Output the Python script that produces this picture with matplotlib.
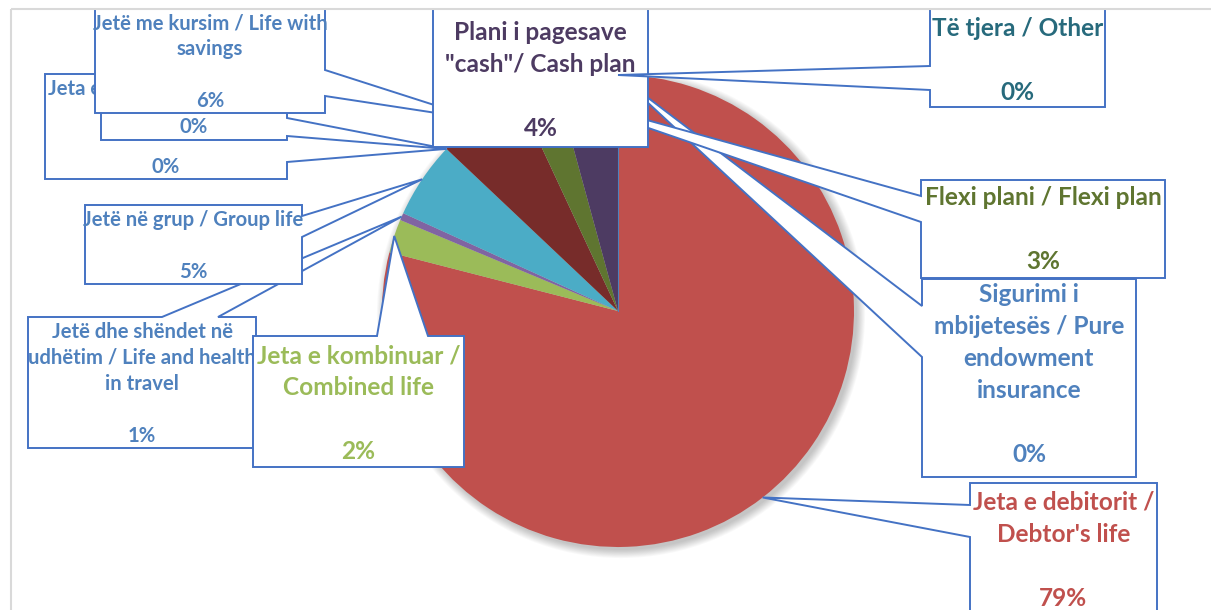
import math
import matplotlib
matplotlib.use("Agg")
import matplotlib.pyplot as plt
from matplotlib.patches import Polygon, Rectangle, Circle

# ---------------- data ----------------
categories = [
    "Sigurimi i\nmbijetesës / Pure\nendowment\ninsurance",
    "Jeta e debitorit /\nDebtor's life",
    "Jeta e kombinuar /\nCombined life",
    "Jetë dhe shëndet në\nudhëtim / Life and health\nin travel",
    "Jetë në grup / Group life",
    "Jeta e përkohshme / Term\nlife",
    "Jetë me fond investimi\n/ Unit linked",
    "Jetë me kursim / Life with\nsavings",
    "Flexi plani / Flexi plan",
    "Plani i pagesave\n\"cash\"/ Cash plan",
    "Të tjera / Other",
]
values = [0.0, 79.0, 2.3, 0.5, 5.25, 0.0, 0.0, 6.0, 2.7, 4.25, 0.0]
slice_colors = ["#4F81BD", "#C0504D", "#9BBB59", "#8064A2", "#4BACC6", "#F79646",
                "#2C4D75", "#772C2A", "#5F7530", "#4D3B62", "#276A7C"]
label_colors = ["#4F81BD", "#C0504D", "#9BBB59", "#4F81BD", "#4F81BD", "#4F81BD",
                "#4F81BD", "#4F81BD", "#5F7530", "#4D3B62", "#276A7C"]

# ---------------- layout (pixel space, y down) ----------------
W, H = 1211, 610
CX, CY, R = 618, 311, 236
EDGE = "#4472C4"
FONT = "Lato"
SIZES = {"L": 17.6, "S": 14.6}
# 'hide': text lines that sit completely under another label box in the original
layout = [
    dict(box=(922, 279, 1136, 477), side="left", att=(306, 357), base=302, pitch=32, size="L", z=3),
    dict(box=(970, 483, 1157, 660), side="left", att=(505, 537), base=510, pitch=32, size="L", z=3),
    dict(box=(253, 336, 464, 467), side="top", att=(377, 428), base=363, pitch=32, size="L", z=4),
    dict(box=(28, 317, 256, 448), side="top", att=(162, 218), base=338, pitch=26, size="S", z=3),
    dict(box=(85, 205, 302, 284), side="right", att=(216, 237), base=226, pitch=26, size="S", z=4),
    dict(box=(45, 74, 287, 179), side="right", att=(130, 162), base=95, pitch=26, size="S", z=3,
         hide=(1,)),
    dict(box=(101, 30, 287, 140), side="right", att=(118, 136), base=55, pitch=26, size="S", z=4,
         hide=(0, 1)),
    dict(box=(95, -20, 325, 113), side="right", att=(70, 96), base=29, pitch=26, size="S", z=5),
    dict(box=(921, 180, 1165, 278), side="left", att=(196, 222), base=205, pitch=32, size="L", z=4),
    dict(box=(433, -20, 648, 147), side=None, att=None, base=40, pitch=32, size="L", z=6),
    dict(box=(930, -20, 1105, 107), side="left", att=(66, 90), base=36, pitch=32, size="L", z=7),
]

fig = plt.figure(figsize=(W / 100, H / 100), dpi=100)
ax = fig.add_axes([0, 0, 1, 1])

# soft shadow under the pie
for k in range(10):
    ax.add_patch(Circle((CX + 3, CY + 3), R + k * 0.9, facecolor="black",
                        edgecolor="none", alpha=0.022, zorder=0.5))

wedges, _ = ax.pie(values, colors=slice_colors, startangle=-90, counterclock=True,
                   center=(CX, CY), radius=R, wedgeprops=dict(linewidth=0))
for w in wedges:
    w.set_zorder(1)

ax.set_xlim(0, W)
ax.set_ylim(H, 0)
ax.axis("off")

total = sum(values)


def edge_point(frac):
    th = math.radians(-90 + 360 * frac)
    return CX + R * math.cos(th), CY + R * math.sin(th)


# zero-width slice outline at the start angle
x0p, y0p = edge_point(0.0)
ax.plot([CX, x0p], [CY, y0p], color=slice_colors[0], lw=0.8, zorder=1.2)

chart_clip = Rectangle((12, 10), W + 50, H + 50, transform=ax.transData)


def callout(box, side, att, tip):
    x0, y0, x1, y1 = box
    tl, tr, br, bl = (x0, y0), (x1, y0), (x1, y1), (x0, y1)
    if side is None or tip is None:
        return [tl, tr, br, bl]
    a, b = att
    if side == "top":
        return [tl, (a, y0), tip, (b, y0), tr, br, bl]
    if side == "right":
        return [tl, tr, (x1, a), tip, (x1, b), br, bl]
    if side == "bottom":
        return [tl, tr, br, (b, y1), tip, (a, y1), bl]
    return [tl, tr, br, bl, (x0, b), tip, (x0, a)]


cum = 0.0
for i, (name, v) in enumerate(zip(categories, values)):
    lay = layout[i]
    frac_mid = (cum + v / 2) / total
    cum += v
    tip = edge_point(frac_mid)
    x0, y0, x1, y1 = lay["box"]
    inside = x0 <= tip[0] <= x1 and y0 <= tip[1] <= y1
    verts = callout(lay["box"], lay["side"], lay["att"], None if inside else tip)
    poly = Polygon(verts, closed=True, facecolor="white", edgecolor=EDGE,
                   linewidth=1.4, joinstyle="miter", zorder=lay["z"])
    ax.add_patch(poly)
    poly.set_clip_path(chart_clip)

    clip = Rectangle((x0, y0), x1 - x0, y1 - y0, transform=ax.transData)
    pct = f"{math.floor(v + 0.5)}%"
    lines = name.split("\n") + ["", pct]
    xc = (x0 + x1) / 2
    hide = lay.get("hide", ())
    for j, line in enumerate(lines):
        if not line or j in hide:
            continue
        t = ax.text(xc, lay["base"] + j * lay["pitch"], line, ha="center", va="baseline",
                    fontsize=SIZES[lay["size"]], fontweight="bold", family=FONT,
                    color=label_colors[i], zorder=lay["z"] + 0.5)
        t.set_clip_path(clip)

# chart area border
ax.add_patch(Rectangle((11, 9), W + 50, H + 50, fill=False, edgecolor="#D9D9D9",
                       linewidth=1.5, zorder=20))

fig.savefig("out.png", dpi=100)
